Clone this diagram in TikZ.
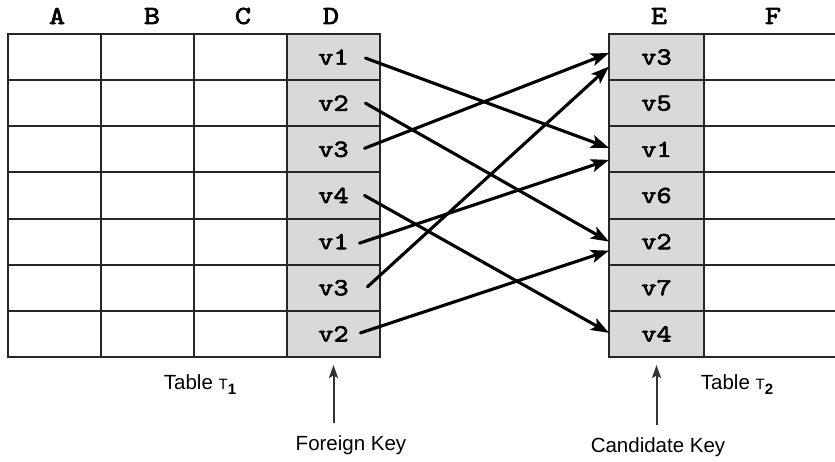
\documentclass[tikz,border=0pt]{standalone}
\usepackage{fontspec}
\setsansfont{Liberation Sans}
\newfontfamily\codefont{lmmono10-regular.otf}[FakeBold=2.6,FakeStretch=1.18]
\usetikzlibrary{arrows.meta,calc}

\tikzset{
  cell/.style={draw=black!85, line width=2pt, minimum width=93pt,
    minimum height=46.14pt, inner sep=0pt, outer sep=0pt},
  keycell/.style={cell, fill=black!15, font=\codefont\fontsize{24.5}{24.5}\selectfont},
  hdr/.style={font=\codefont\fontsize{26}{26}\selectfont, inner sep=0pt},
  lbl/.style={font=\sffamily\fontsize{20.5}{20.5}\selectfont, inner sep=0pt},
  link/.style={line width=3.1pt, line cap=round,
    -{Stealth[length=18pt,width=13pt,inset=4pt]}},
  pointer/.style={draw=black!80, line width=2pt,
    -{Stealth[length=13pt,width=9pt,inset=2.5pt]}}
}

\begin{document}
\begin{tikzpicture}[x=1pt,y=-1pt]
\useasboundingbox (0,0) rectangle (835,461);

% Table T1: plain columns A, B, C
\foreach \r in {1,...,7} {
  \foreach \c/\x in {A/54.5,B/147.5,C/240.5}
    \node[cell] (\c\r) at (\x,{34+46.14*(\r-0.5)}) {};
}
% foreign key column D
\foreach \v [count=\r] in {v1,v2,v3,v4,v1,v3,v2}
  \node[keycell] (D\r) at (333.5,{34+46.14*(\r-0.5)}) {\v};

% Table T2: candidate key column E and column F
\foreach \v [count=\r] in {v3,v5,v1,v6,v2,v7,v4}
  \node[keycell, minimum width=95pt] (E\r) at (656.5,{34+46.14*(\r-0.5)}) {\v};
\foreach \r in {1,...,7}
  \node[cell, minimum width=150pt] (F\r) at (779,{34+46.14*(\r-0.5)}) {};

% column headers
\node[hdr] (hA) at (57,16) {A};
\node[hdr] (hB) at (152,16) {B};
\node[hdr] (hC) at (243,16) {C};
\node[hdr] (hD) at (331,16) {D};
\node[hdr] (hE) at (659,16) {E};
\node[hdr] (hF) at (773,16) {F};

% references from D values to E values
\draw[link] ($(D1.center)+(32,1)$) -- ($(E3.west)+(0,-1.5)$);
\draw[link] ($(D2.center)+(32,0)$) -- ($(E5.west)+(0,0)$);
\draw[link] ($(D3.center)+(31,-1)$) -- ($(E1.west)+(0,-4)$);
\draw[link] ($(D4.center)+(31,0)$) -- ($(E7.west)+(0,-1)$);
\draw[link] ($(D5.center)+(26,1.5)$) -- ($(E3.west)+(0,10.5)$);
\draw[link] ($(D6.center)+(34,-1)$) -- ($(E1.west)+(0,9.5)$);
\draw[link] ($(D7.center)+(27,-1)$) -- ($(E5.west)+(0,9)$);

% captions
\node[lbl] (t1) at (200,385) {Table~{\fontsize{15}{15}\selectfont T\raisebox{-5pt}{\bfseries 1}}};
\node[lbl] (t2) at (737,385) {Table~{\fontsize{15}{15}\selectfont T\raisebox{-5pt}{\bfseries 2}}};
\node[lbl] (fk) at (351,445) {Foreign Key};
\node[lbl] (ck) at (658,447) {Candidate Key};

\draw[pointer, shorten <=12pt, shorten >=8pt] (fk.north -| D7.south) -- (D7.south);
\draw[pointer, shorten <=12pt, shorten >=8pt] (ck.north -| E7.south) -- (E7.south);
\end{tikzpicture}
\end{document}
